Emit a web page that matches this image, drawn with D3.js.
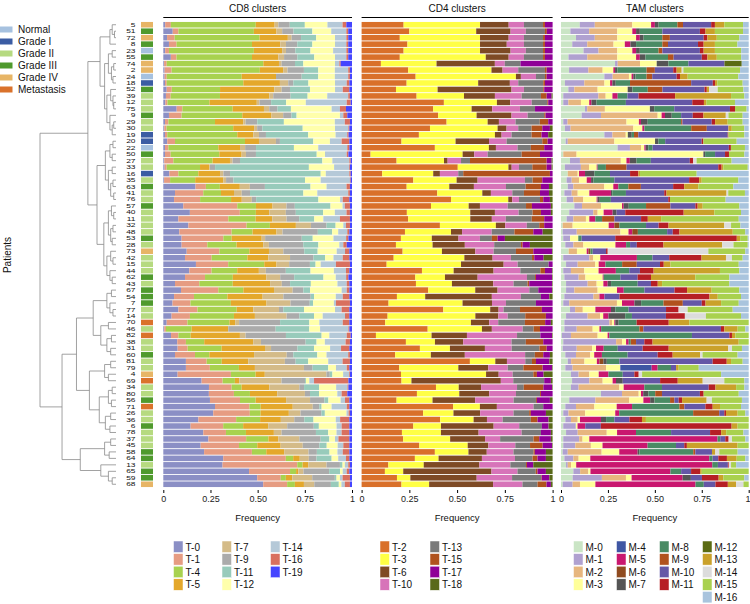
<!DOCTYPE html>
<html><head><meta charset="utf-8">
<script src="https://cdn.jsdelivr.net/npm/d3@7"></script>
<style>body{margin:0;background:#fff}svg{display:block;font-family:"Liberation Sans",Arial,sans-serif}</style>
</head><body><svg id="c" width="750" height="604"></svg>
<script>
const patients=[5,51,72,8,23,55,74,2,24,18,52,39,12,75,9,29,30,19,20,22,50,27,33,16,35,63,41,76,57,40,11,32,48,53,28,73,42,15,44,62,43,67,54,7,77,14,70,46,82,38,31,60,81,79,4,69,34,80,56,71,26,36,6,78,37,45,58,64,13,65,59,68];
const gradeNames=["Normal","Grade I","Grade II","Grade III","Grade IV","Metastasis"];
const gradeColors=["#a6c1df","#3b5ca3","#b6da80","#4f9a2d","#e7b566","#da722b"];
const patientGrade=[4,3,4,3,0,3,4,4,0,1,3,2,2,2,3,2,2,1,1,0,3,2,2,1,2,3,2,2,3,2,2,2,2,3,2,4,2,2,2,3,2,3,3,3,2,2,5,2,5,2,2,3,2,2,4,5,2,2,3,5,2,2,3,2,2,2,3,3,2,3,3,4];

const cd8Clusters=["T-0","T-1","T-4","T-5","T-7","T-9","T-11","T-12","T-14","T-16","T-19"];
const cd8Colors=["#8b8fc5","#e69c82","#a8d24f","#e4a82b","#d4bb88","#ababab","#98cbbb","#ffffab","#b5c9d8","#d9705f","#4545ff"];
const cd4Clusters=["T-2","T-3","T-6","T-10","T-13","T-15","T-17","T-18"];
const cd4Colors=["#d9702a","#ffff45","#7e4a25","#d774b9","#7a7a7a","#b0521e","#8f0097","#59691a"];
const tamClusters=["M-0","M-1","M-2","M-3","M-4","M-5","M-6","M-7","M-8","M-9","M-10","M-11","M-12","M-13","M-14","M-15","M-16"];
const tamColors=["#cae5c5","#b0a1d0","#e7b67e","#ffff9a","#3f56a3","#c9176f","#8f4b1f","#555555","#4a8b64","#b1521e","#6557a6","#b61f25","#5b6b13","#caa12a","#dcdcdc","#a9d14f","#a9c4dd"];

const cd8Values=[
[1,3,45,10,2,6,8,12,8,2,3],[5,3,40,12,3,6,10,10,8,1,2],[2,4,45,15,2,5,8,10,6,1,2],[3,4,40,15,3,6,8,12,6,1,2],[1,2,45,15,2,5,8,12,7,1,2],[4,3,40,14,3,7,9,11,6,1,2],
[0.4,1.4,51.2,8.3,1.4,7.1,4.4,16.8,2.3,0.7,6.0],[0.7,3.7,46.8,12.4,2.3,8.7,7.6,8.8,7.1,0.9,1.1],[0.7,1.1,39.8,18.2,0,13.6,8.8,8.8,7.1,0.9,1.1],[0.9,0.9,40.6,19.4,4.4,2.7,8.0,14.1,6.2,1.4,1.4],
[1.8,2.7,25.6,28.8,3.9,4.4,10.6,13.3,4.1,3.5,1.4],[1.4,2.5,26.1,26.1,2.1,9.2,9.0,10.4,11.1,0.9,1.1],[1.1,1.1,22.3,25.1,1.4,6.2,8.0,10.4,21.7,2.1,0.7],[7.1,3.0,26.7,16.6,2.8,4.4,7.1,21.6,4.4,3.2,3.2],
[3.0,6.7,32.2,15.5,6.2,4.4,2.7,23.0,1.8,2.1,2.5],[0.9,1.8,24.7,15.0,1.2,6.2,14.1,27.0,5.3,2.7,1.1],[0.5,1.2,35.3,11.1,1.6,2.7,21.4,17.1,7.1,0.5,1.4],[0.9,1.2,37.1,8.5,3.0,3.7,22.4,14.5,6.2,0.7,1.8],
[2.1,4.1,37.1,7.4,9.0,2.1,17.7,8.8,6.2,4.1,1.4],[0.9,1.8,26.5,11.5,2.7,5.8,20.1,12.9,15.4,1.1,1.4],[0.9,3.0,25.8,11.8,2.3,5.3,32.2,4.4,11.5,0.9,1.9],[0.5,4.8,20.8,9.2,1.4,3.9,43.6,5.3,9.0,0.7,0.7],
[0.7,1.1,17.7,4.9,0.4,2.7,49.8,13.4,8.0,0.4,1.1],[3.2,4.8,10.6,11.5,1.8,3.5,48.1,2.7,12.5,0.7,0.7],[0.4,3.2,13.3,15.0,1.4,3.9,38.0,8.3,15.5,0.4,0.7],[17.1,5.5,7.4,10.6,5.3,8.0,24.2,8.5,10.6,1.8,1.1],
[6.2,15.0,9.4,6.9,4.1,4.4,28.3,7.4,16.4,0.9,1.1],[5.7,13.8,16.4,5.7,5.3,2.3,33.0,11.5,1.4,3.5,1.4],[10.6,28.6,9.9,8.8,7.4,4.4,18.9,6.4,1.2,2.7,1.1],[14.1,26.5,8.5,7.1,8.8,5.3,14.5,6.2,6.2,1.8,1.1],
[8.0,26.5,14.5,8.8,7.6,6.7,8.0,4.8,8.8,5.3,1.1],[13.3,30.9,12.4,13.8,8.0,8.3,4.8,4.1,1.4,2.1,1.1],[8.5,27.7,11.1,12.7,3.2,18.7,7.6,3.2,4.8,1.1,1.4],[9.7,22.1,4.4,15.9,1.8,19.4,5.8,11.0,6.7,1.2,1.9],
[9.7,13.6,15.5,14.1,3.0,18.2,8.0,11.1,2.1,1.8,2.8],[12.4,17.3,15.9,10.4,7.6,11.1,7.1,10.1,4.4,2.3,1.4],[11.5,14.1,18.9,11.1,11.5,12.4,6.2,4.4,4.9,3.5,1.4],[17.3,17.1,19.1,6.5,6.7,11.0,3.0,2.7,8.1,7.4,1.1],
[13.8,11.8,13.6,11.5,3.7,10.6,13.1,12.4,6.4,1.8,1.4],[11.5,10.6,14.7,17.7,7.4,7.4,15.5,6.5,5.5,1.2,1.9],[6.2,12.9,17.7,19.8,6.2,4.4,11.0,14.1,4.9,1.4,1.4],[9.4,19.8,13.3,16.3,9.9,5.7,3.5,16.8,2.7,1.4,1.4],
[5.7,10.6,17.7,18.7,11.0,14.5,1.8,11.5,3.7,3.5,1.4],[4.9,9.5,21.4,18.9,12.7,10.2,1.8,11.0,1.1,7.4,1.1],[8.0,10.1,20.8,8.8,13.6,2.3,11.0,16.4,3.5,4.1,1.4],[4.4,9.7,23.3,11.1,16.8,6.7,7.8,4.6,11.8,2.3,1.4],
[1.8,11.0,22.3,3.0,2.1,21.7,15.5,5.3,12.4,3.5,1.4],[0.5,0.9,13.6,19.4,0,25.1,17.8,5.7,15.0,0.5,1.4],[4.1,3.9,6.5,26.1,3.0,21.4,18.9,4.1,9.2,2.1,0.7],[7.4,4.6,9.7,26.0,4.1,23.7,5.8,4.4,11.0,2.3,1.1],
[7.6,5.3,18.0,23.0,3.2,14.0,8.8,8.5,5.8,4.4,1.4],[6.2,10.6,7.6,23.7,17.3,3.5,12.7,4.9,11.5,0.9,1.1],[12.0,11.0,8.0,14.1,19.4,5.7,6.7,10.6,7.6,3.9,1.1],[12.0,12.7,15.4,8.5,26.0,4.6,8.3,4.1,5.7,1.4,1.4],
[7.6,28.3,13.1,4.9,32.7,1.8,1.4,5.7,3.2,0.4,1.1],[20.3,11.1,6.5,2.3,22.4,12.4,0.5,1.8,2.5,18.2,1.9],[24.2,12.0,5.3,14.7,15.9,2.5,8.0,9.0,6.0,0.5,1.9],[24.2,13.3,8.5,14.5,14.7,2.7,4.8,9.7,2.3,3.0,2.5],
[24.7,15.9,8.3,16.1,12.7,7.6,2.1,6.5,2.3,2.3,1.4],[27.4,18.2,6.0,17.0,10.6,3.5,1.2,5.3,8.0,1.4,1.4],[26.5,19.4,5.7,15.0,6.2,11.1,1.8,11.5,1.1,0.7,1.1],[18.6,20.0,12.7,11.0,7.1,5.3,4.9,11.8,2.3,4.9,1.4],
[14.5,17.3,10.6,13.3,10.1,14.1,2.7,9.4,2.7,4.1,1.4],[21.2,12.0,10.6,14.8,4.1,18.2,6.5,4.4,2.7,4.1,1.4],[23.9,20.0,11.8,5.3,11.1,11.3,4.6,3.0,1.8,5.8,1.4],[19.8,20.3,9.7,12.4,11.7,8.8,3.9,5.8,3.0,3.2,1.4],
[21.6,25.3,7.6,9.5,12.9,4.4,6.7,4.2,2.8,3.5,1.4],[31.8,33.2,3.9,3.5,4.8,4.1,8.0,3.5,4.1,1.8,1.4],[31.4,39.6,2.8,3.0,9.7,7.1,1.4,1.2,1.8,0.9,1.1],[45.4,21.7,3.2,1.2,2.7,13.6,5.8,1.4,2.1,1.4,1.4],
[49.8,12.5,2.7,3.4,10.6,12.0,0.9,1.8,1.4,3.9,1.1],[53.0,12.7,4.1,4.8,5.5,8.8,4.2,1.4,1.8,2.7,1.1]];

const cd4Values=[
[22,40,15,8,10,1,4,0],[25,35,18,8,10,1,3,0],[20,42,15,8,10,1,4,0],[24,38,14,9,10,1,4,0],[22,40,16,8,9,1,4,0],[20,45,12,8,10,1,4,0],
[10.1,29.1,30.5,5.2,8.2,0,16.8,0],[24.4,43.6,5.8,8.2,14.0,0.9,3.1,0],[28.3,52.5,2.6,7.9,4.7,0.9,3.1,0],[23.6,37.5,16.6,4.4,13.1,0.9,4.0,0],
[18.0,21.8,38.7,6.5,10.1,0.5,4.4,0],[28.8,24.8,16.2,14.0,10.1,3.0,2.6,0.5],[43.3,27.9,7.0,11.3,8.2,0.5,2.3,0],[37.5,20.1,10.8,14.5,7.9,0,9.2,0],
[40.1,20.1,18.3,8.4,8.7,0.7,3.7,0],[44.5,21.5,5.9,8.7,12.7,4.4,2.3,0],[35.8,35.4,4.7,6.1,7.0,5.6,4.0,1.4],[30.0,39.8,3.5,5.2,10.5,5.2,3.5,2.3],
[20.9,28.3,17.5,9.2,18.7,2.8,2.6,0],[38.4,28.3,3.7,11.3,7.0,7.0,4.4,0],[4.7,48.2,6.1,7.0,17.8,9.6,6.6,0],[18.3,24.8,1.9,7.0,4.7,40.1,2.6,0.5],
[50.3,26.5,1.7,3.8,7.0,7.5,2.6,0.5],[10.8,26.7,3.5,9.6,2.6,45.4,1.4,0],[27.1,22.7,11.0,24.8,4.0,5.1,5.4,0],[23.6,22.3,12.9,16.8,10.3,8.0,4.2,1.9],
[39.6,23.6,4.5,11.2,6.1,8.4,4.7,1.9],[46.8,30.0,2.1,3.5,11.0,1.7,3.5,1.4],[36.3,19.7,5.9,14.5,9.6,3.1,9.9,0.9],[23.7,33.2,12.9,12.4,7.3,4.4,5.2,0.9],
[24.4,32.5,11.3,7.3,13.6,6.5,4.4,0],[41.0,29.3,4.9,11.3,6.5,2.6,4.4,0],[22.7,24.1,5.8,15.5,11.9,9.9,4.9,5.2],[20.6,16.2,14.0,11.2,6.3,3.0,3.8,25.0],
[18.0,19.2,16.9,15.4,14.0,0.9,3.8,11.9],[21.5,20.6,17.5,9.6,11.7,9.1,9.8,0.3],[16.8,37.0,14.8,9.6,11.0,1.2,4.9,4.7],[13.1,38.9,22.3,7.3,16.2,0,2.1,0],
[31.6,16.6,20.9,14.0,10.5,2.4,3.7,0.3],[28.1,15.5,17.1,25.8,4.2,0.5,8.4,0.3],[28.4,18.8,21.6,10.6,7.3,0.9,11.9,0.3],[34.9,24.6,11.7,16.6,4.7,0,7.2,0.3],
[18.5,14.8,34.9,15.2,10.5,0,4.4,1.7],[14.1,38.7,15.4,7.3,15.7,0,8.7,0],[42.8,24.6,4.4,2.6,8.6,11.5,5.6,0],[13.6,45.9,12.0,4.9,9.2,10.8,3.5,0],
[12.4,44.9,9.6,4.7,14.0,10.6,3.0,0.9],[34.6,28.4,5.2,16.1,5.8,3.3,6.6,0],[7.5,29.1,18.5,26.2,12.2,0,6.1,0.3],[23.2,15.2,14.8,25.3,7.5,9.1,4.9,0],
[30.5,15.7,18.3,14.0,14.5,3.8,3.1,0],[17.6,18.7,17.8,31.6,5.1,4.4,3.5,1.4],[56.7,13.3,6.1,9.6,3.5,2.1,7.0,1.7],[19.7,30.9,15.7,10.1,8.2,10.1,4.9,0.3],
[20.6,44.5,6.6,7.3,10.8,1.9,3.5,4.7],[20.9,5.2,46.8,6.5,16.2,0,3.5,0.9],[38.9,11.9,11.7,18.8,3.5,10.3,4.5,0.3],[29.0,22.2,15.7,14.0,12.6,0.5,6.1,0],
[18.3,18.8,22.3,20.1,11.7,0.5,6.8,1.4],[48.0,14.0,8.9,19.2,5.1,0,4.9,0],[32.3,15.9,14.0,17.5,8.2,0.9,7.9,3.5],[41.2,17.5,7.0,8.2,14.8,3.5,5.8,2.1],
[27.1,14.5,27.6,13.4,11.9,0,3.5,2.1],[21.1,20.4,19.7,22.5,10.1,0,5.2,0.9],[21.8,24.6,18.3,7.9,17.5,3.0,6.1,0.9],[30.2,25.3,10.8,14.1,7.7,6.6,4.9,0.3],
[38.4,17.6,9.6,14.0,10.5,0.7,5.8,3.5],[27.9,12.4,22.7,17.3,9.2,2.6,4.4,3.5],[14.0,18.5,29.1,16.2,8.2,0.5,3.3,10.1],[12.2,9.6,46.2,13.6,9.6,0.9,4.4,3.5],
[18.5,7.0,34.7,18.5,15.2,0.3,4.0,1.7],[20.9,14.5,33.5,15.4,7.9,4.7,2.3,0.9]];

const tamValues=[
[10,8,20,10,0,2,0,2,10,3,15,2,0,5,0,10,3],[5,10,15,8,0,2,0,2,12,0,20,3,0,5,0,15,3],[8,10,12,10,0,2,0,2,10,4,18,2,0,5,0,12,5],[6,8,14,6,0,3,0,3,14,3,16,3,0,6,0,12,6],[12,8,10,8,0,2,0,2,10,2,20,2,0,6,0,14,4],[4,10,16,10,0,2,0,3,12,3,15,3,0,5,0,13,4],
[28.8,1.4,11.9,8.9,0,0,0,6.2,10.7,0,19.2,0,9.2,0,0,0,3.7],[4.3,10.3,7.6,5.7,0,0.9,0,1.2,15.6,4.4,9.8,1.8,0,2.7,0.9,30.2,4.6],[23.1,4.4,8.7,1.4,0,0.9,0,1.2,5.9,3.0,13.0,1.8,0,4.1,0,27.0,5.5],
[2.1,10.3,10.7,3.0,0,1.2,0,1.8,7.6,32.5,11.5,1.2,0,1.2,0,13.5,3.2],[3.9,3.2,12.4,16.0,0,0,0,2.5,8.2,7.8,22.4,1.2,0,1.2,4.6,13.7,2.8],[1.2,18.7,3.9,3.6,0,2.8,0,0,5.2,0,5.9,19.5,0,29.8,0,7.1,2.3],
[1.2,2.7,6.7,4.4,0,1.2,0,2.7,15.6,0,35.3,6.2,0,1.4,0,15.1,7.3],[12.8,1.2,9.4,24.0,0,0,0,2.3,10.7,0,29.7,2.7,0,0,0,6.2,1.1],[11.0,10.3,30.2,2.1,0,1.8,0,3.6,5.0,0,6.2,5.7,0,11.9,1.4,7.6,3.2],
[1.2,2.3,31.4,6.6,0,1.1,0,3.6,17.8,0.7,15.6,1.8,0,6.7,0,8.0,3.2],[2.1,3.0,33.4,4.8,0,1.1,0,0,24.9,8.3,11.5,0,0,1.8,0,6.7,2.3],[23.1,4.3,7.1,1.1,0,0,0,2.1,1.2,2.3,47.6,0.4,0,0,0,8.5,2.3],
[2.5,1.1,24.9,21.7,0,0,0,1.8,3.6,0,19.5,0.9,0,0,0,17.8,6.4],[30.2,6.6,5.9,1.8,0,0.7,0,1.4,2.3,0,40.7,1.1,0,0,0,7.5,2.0],[1.2,0,7.1,67.5,0,0,0,0.9,5.3,0,5.3,2.1,0,0,0,8.2,2.3],
[4.8,5.3,21.8,3.0,0,1.8,0,3.6,7.6,0,20.8,1.8,0,0,1.8,18.7,9.1],[2.1,8.5,4.3,4.1,0,0.5,0,0,4.4,11.0,48.8,1.8,0,0.9,0,13.0,0.5],[3.6,0,5.3,0.7,0,3.2,0,5.0,8.3,0,10.7,4.4,0,0.9,0,30.2,27.7],
[3.0,2.7,3.9,4.1,0,2.3,0,1.2,11.2,0,39.8,5.3,0,1.4,0,19.5,5.5],[3.6,3.0,16.5,4.8,0,2.7,0,0,5.3,6.7,17.2,5.9,0,7.5,0,18.7,8.2],[1.8,3.9,3.2,6.2,0,11.5,0,0.7,7.3,0,20.4,1.2,0,32.0,0.9,8.9,2.0],
[3.0,3.6,5.3,7.1,0,0.5,0,1.2,5.9,0,30.6,0.9,0,0,0,29.7,12.3],[7.1,4.1,10.1,11.2,0,0.9,0,2.7,9.2,13.0,13.3,1.2,0,2.7,0,19.5,5.0],[4.4,12.8,2.3,3.2,0,4.8,0,2.1,0,0,4.6,31.1,0,16.3,0,14.2,4.1],
[3.0,3.6,6.7,1.8,0,3.2,0,0,3.6,6.6,14.2,3.6,0,7.1,0,41.4,5.3],[0.9,0,5.3,19.2,0,3.0,2.7,0,14.2,0,6.7,5.3,0,29.7,3.6,5.0,4.4],[0.9,7.5,23.3,4.3,0,2.0,3.0,0,15.6,0,3.0,3.6,0,28.4,0,6.7,1.8],
[1.2,3.7,0,4.4,0,0,0,0,1.8,0,18.1,65.4,0,1.8,0,4.1,0.5],[2.3,4.3,5.3,17.1,0,5.7,0,0,2.1,0,3.6,14.2,0,31.3,6.0,7.6,0.5],[4.1,0,4.4,5.2,0,0.9,1.1,0,1.2,0,7.1,0.9,0,0,53.6,19.7,1.8],
[1.2,13.9,2.1,3.7,0,19.5,0,0,8.3,0,8.9,17.2,0,13.0,3.2,5.7,3.2],[2.7,6.2,9.4,1.8,0,3.6,0,0,8.9,7.8,12.4,2.0,0,3.6,0,36.4,5.3],[1.2,4.1,7.1,7.6,0,9.2,0,0,7.1,0,5.7,7.3,0,35.3,0,10.3,5.0],
[1.8,7.6,3.6,9.2,0,0.5,0,0,8.9,0,9.2,7.1,0,23.6,0,18.1,10.3],[2.7,11.5,4.8,3.6,0,2.3,0,1.8,14.2,0,7.1,3.6,0,2.3,0,35.9,10.3],[2.7,4.4,12.4,10.3,0,3.6,0,0,11.0,0,16.0,6.7,0,13.1,0,14.7,5.0],
[1.8,15.5,3.2,0,0,2.7,0,0,0,0,8.0,48.0,0,4.4,0,12.4,4.1],[1.2,3.2,25.4,2.7,0,6.6,0,3.6,11.9,10.3,10.1,2.0,0,8.3,0,9.4,5.3],[4.8,2.7,4.1,6.7,0,8.3,0,2.3,7.1,0,19.9,6.7,0,0,4.8,24.0,8.5],
[2.7,11.5,6.7,1.6,0,2.8,0,8.9,3.6,0,18.1,10.1,0,0,11.2,18.7,4.1],[1.8,24.0,1.4,1.2,0,0.5,0,1.8,9.6,0,0,17.1,0,11.0,0,31.6,0],[1.8,6.6,8.5,3.6,0,0.9,0,0,20.4,2.1,41.4,1.8,0,7.1,0,4.1,1.8],
[0.5,4.8,14.2,5.3,0,0.9,0,0,44.0,0,19.9,1.4,0,1.8,0,7.1,0],[1.2,28.1,3.2,2.1,0,1.4,0,0,1.1,2.8,4.4,4.4,0,45.8,0,5.3,0],[0.9,7.5,8.2,2.1,0,4.1,0,0,7.5,0,13.3,13.9,0,31.8,2.0,5.3,3.6],
[2.3,5.7,7.6,2.1,0,4.1,0,0,13.7,0,16.0,8.0,0,14.7,1.2,18.7,5.9],[3.6,1.8,7.1,6.6,0,1.4,2.1,1.8,6.7,0,49.7,7.5,0,2.3,0,6.2,3.2],[2.3,3.9,17.8,7.6,16.7,3.2,0,0,7.1,0,2.7,0,0,1.4,0,10.7,26.6],
[5.3,4.1,5.7,5.0,0,5.2,0,0,7.6,0,6.2,2.3,0,0,1.8,42.1,14.7],[5.9,9.2,7.1,5.3,0,1.8,0,3.6,0,0,19.9,9.4,0,13.3,11.5,10.7,2.3],[5.3,4.1,21.7,2.3,0,11.0,0,0,9.4,0,24.9,3.6,0,11.0,0,4.4,2.3],
[21.3,11.2,8.9,1.2,0,1.2,0,2.8,3.6,3.6,20.2,2.0,0,0,0,18.7,5.3],[4.4,13.9,18.1,7.5,0,3.6,0,2.3,8.3,2.3,2.3,1.8,0,13.1,2.8,16.0,3.6],[2.3,5.7,9.8,11.9,0,8.2,0,0,25.2,2.7,11.2,3.9,0,3.9,0,11.2,4.1],
[1.2,2.8,8.9,16.0,0,2.1,0,0,39.4,13.9,2.7,0.9,0,6.2,0,4.1,1.8],[2.3,3.0,3.6,1.2,0,11.2,0,2.7,4.4,0,8.0,6.7,0,2.1,0,54.7,0],[1.2,6.7,0,0.9,0,4.1,0,0,0,0,8.3,69.6,0,3.2,0,5.9,0],
[2.7,6.2,15.5,5.5,0,10.1,0,0,18.7,0,20.8,5.9,0,2.7,0,9.2,2.8],[1.2,8.5,1.8,3.6,0,68.4,0,0,1.4,0,2.7,1.8,0,0,1.8,7.1,1.8],[1.2,6.4,8.3,6.2,0,24.0,0,0,15.1,0,4.4,1.4,0,27.0,0,5.9,0],
[0.9,2.7,18.1,9.4,0,9.8,0,0.9,28.8,1.1,8.9,0,0,1.8,2.1,9.8,5.9],[1.8,4.8,2.8,6.2,0,63.4,0,0,1.8,0,3.0,4.6,0,5.2,0,4.6,1.8],[2.7,0.9,1.8,2.7,0,72.5,0,0,3.0,0,5.3,0.5,0,0,1.2,2.7,6.7],
[6.6,3.6,4.4,1.1,0,42.6,0,0,5.7,0,5.3,4.8,0,0.9,0,25.0,0],[6.2,15.6,12.8,3.0,0,27.2,0,4.4,0,0,5.9,8.9,0,2.5,0,11.2,2.3],[0.9,5.3,3.9,8.2,0,53.3,0,0,4.4,0,6.2,6.6,0,4.4,3.9,2.8,0]];

// dendrogram: [mergeHeight, left, right]; leaves are patient ids
const tree=[1.0,
 [0.37,
  [0.21,
   [0.08,[0.05,5,[0.02,51,72]],8],
   [0.15,[0.1,[0.05,23,55],[0.06,[0.03,74,2],[0.04,24,18]]],[0.12,[0.07,52,[0.04,39,[0.03,12,75]]],[0.08,9,[0.05,[0.03,29,30],19]]]]],
  [0.25,
   [0.14,[0.08,[0.04,20,22],[0.05,50,27]],[0.1,[0.05,33,16],[0.07,[0.04,35,63],[0.03,41,76]]]],
   [0.16,[0.1,[0.06,57,[0.03,40,11]],[0.07,[0.04,32,48],[0.05,53,28]]],[0.12,[0.07,73,[0.04,42,15]],[0.08,44,[0.05,62,43]]]]]],
 [0.71,
  [0.52,
   [0.3,[0.12,[0.06,67,54],[0.08,7,[0.04,77,14]]],[0.2,[0.1,70,46],[0.12,[0.06,82,38],[0.07,31,60]]]],
   [0.35,[0.15,[0.07,81,79],[0.1,4,69]],[0.22,[0.1,[0.05,34,80],[0.06,56,71]],[0.14,[0.07,26,36],[0.08,6,78]]]]],
  [0.47,[0.15,[0.07,37,45],[0.09,58,64]],[0.2,13,[0.1,65,[0.05,59,68]]]]]];

const tickVals=[0,0.25,0.5,0.75,1];
const tickLabels=["0","0.25","0.50","0.75","1"];

const svg=d3.select("#c");
svg.append("rect").attr("width",750).attr("height",604).attr("fill","#fff");

const y=d3.scaleBand().domain(patients).range([21.5,487.5]).paddingInner(0.14).paddingOuter(0.07);

const panels=[
 {title:"CD8 clusters",keys:cd8Clusters,colors:cd8Colors,values:cd8Values,range:[163.3,352]},
 {title:"CD4 clusters",keys:cd4Clusters,colors:cd4Colors,values:cd4Values,range:[361.6,552.6]},
 {title:"TAM clusters",keys:tamClusters,colors:tamColors,values:tamValues,range:[561,748.7]}
];
panels.forEach((p,pi)=>{
  const rows=patients.map((pt,i)=>{const o={patient:pt};p.keys.forEach((k,j)=>o[k]=p.values[i][j]);return o;});
  const series=d3.stack().keys(p.keys).offset(d3.stackOffsetExpand)(rows);
  const x=d3.scaleLinear().domain([0,1]).range(p.range);
  const color=d3.scaleOrdinal().domain(p.keys).range(p.colors);
  const g=svg.append("g");
  g.selectAll("g.s").data(series).join("g").attr("fill",d=>color(d.key))
   .selectAll("rect").data(d=>d).join("rect")
   .attr("x",d=>x(d[0])).attr("width",d=>Math.max(0,x(d[1])-x(d[0])))
   .attr("y",d=>y(d.data.patient)).attr("height",y.bandwidth());
  svg.append("text").attr("x",(p.range[0]+p.range[1])/2).attr("y",12).attr("text-anchor","middle")
   .attr("font-size",10).attr("fill","#111").text(p.title);
  svg.append("line").attr("x1",p.range[0]).attr("x2",p.range[1]).attr("y1",17.5).attr("y2",17.5).attr("stroke","#000").attr("stroke-width",1);
  const ax=svg.append("g").attr("transform","translate(0,490)")
   .call(d3.axisBottom(x).tickValues(tickVals).tickSize(3).tickPadding(3).tickFormat((d,i)=>tickLabels[i]));
  ax.select(".domain").remove();
  ax.selectAll("text").attr("font-size",9).attr("fill","#222").attr("font-family","Liberation Sans, Arial, sans-serif");
  ax.selectAll("line").attr("stroke","#000");
  if(pi===2) ax.selectAll(".tick:last-of-type text").attr("text-anchor","end").attr("x",1.3);
  svg.append("text").attr("x",(p.range[0]+p.range[1])/2).attr("y",521).attr("text-anchor","middle")
   .attr("font-size",9.5).attr("fill","#111").text("Frequency");
});

svg.append("g").selectAll("rect").data(patients).join("rect")
 .attr("x",141).attr("width",12).attr("y",d=>y(d)).attr("height",y.bandwidth())
 .attr("fill",(d,i)=>gradeColors[patientGrade[i]]);

svg.append("g").selectAll("text").data(patients).join("text")
 .attr("transform",d=>`translate(135.5,${y(d)+y.bandwidth()/2}) scale(1,0.66)`)
 .attr("dy","0.36em").attr("text-anchor","end")
 .attr("font-size",8.4).attr("fill","#111").text(d=>d);

const hx=d3.scaleLinear().domain([0,1]).range([116,40]);
const dg=svg.append("g").attr("stroke","#8a8a8a").attr("stroke-width",0.8).attr("fill","none");
function draw(node){
  if(!Array.isArray(node)) return {x:hx(0),y:y(node)+y.bandwidth()/2};
  const a=draw(node[1]), b=draw(node[2]);
  const nx=hx(node[0]);
  dg.append("path").attr("d",`M${a.x},${a.y}H${nx}V${b.y}H${b.x}`);
  return {x:nx,y:(a.y+b.y)/2};
}
draw(tree);

svg.append("text").attr("transform","translate(11,255) rotate(-90)").attr("text-anchor","middle")
 .attr("font-size",10).attr("fill","#111").text("Patients");

const gl=svg.append("g");
gradeNames.forEach((n,i)=>{
  gl.append("rect").attr("x",0).attr("y",26.5+i*12).attr("width",12.5).attr("height",6).attr("fill",gradeColors[i]);
  gl.append("text").attr("x",18).attr("y",29.5+i*12).attr("dy","0.35em").attr("font-size",10).attr("fill","#111").text(n);
});

function legend(keys,colors,x0,colW,colSizes){
  const g=svg.append("g");
  let idx=0;
  colSizes.forEach((n,c)=>{
    for(let r=0;r<n;r++,idx++){
      const xx=x0+c*colW, yy=541+r*12.6;
      g.append("rect").attr("x",xx).attr("y",yy).attr("width",9.5).attr("height",11.5).attr("fill",colors[idx]).attr("stroke","#fff").attr("stroke-width",0.5);
      g.append("text").attr("x",xx+12).attr("y",yy+6).attr("dy","0.35em").attr("font-size",10).attr("fill","#111").text(keys[idx]);
    }
  });
}
legend(cd8Clusters,cd8Colors,173.5,48.5,[4,4,3]);
legend(cd4Clusters,cd4Colors,380,50,[4,4]);
legend(tamClusters,tamColors,573.5,43,[4,4,4,5]);
</script></body></html>
